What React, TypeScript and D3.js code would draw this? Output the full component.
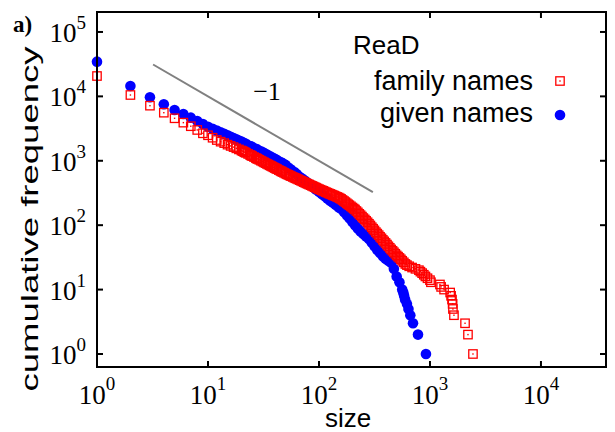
import React from 'react';
import * as d3 from 'd3';

// ---- data ----
// family names: size and cumulative frequency
const familySizes = [
  1, 2, 3, 4, 5, 6, 7, 8, 9, 10, 11, 12, 13, 14, 15, 16, 17, 18, 19, 20,
  20.5, 21, 21.5, 22, 23, 24, 24.5, 25, 26, 27, 27.5, 28, 29, 30, 31, 32, 33, 34, 35, 36,
  37, 38, 39, 40, 41, 42, 43.5, 45, 46, 47, 48.5, 50, 51.5, 53, 54.5, 56, 58, 60, 61.5, 63,
  65, 67, 69, 71, 73, 75, 77, 79, 81.5, 84, 86.5, 89, 91.5, 94, 97, 100, 103, 106, 109, 112,
  115.5, 119, 122.5, 126, 129.5, 133, 137, 141, 145.5, 150, 154, 158, 163, 168, 173, 178, 183,
  188, 194, 200, 205.5, 211, 217.5, 224, 230.5, 237, 244, 251, 258.5, 266, 274, 282, 290.5,
  299, 307.5, 316, 325.5, 335, 345, 355, 365.5, 376, 387, 398, 410, 422, 434.5, 447, 460,
  473, 487, 501, 516, 531, 546.5, 562, 581,
  600, 620, 650, 690, 740, 795, 820, 850, 880, 910, 950, 1000, 1020, 1230, 1260, 1340,
  1520, 1550, 1580, 1600, 1610, 1645, 2070, 2200, 2440,
];
const familyCum = [
  20700, 10500, 7170, 5580, 4570, 3910, 3440, 3010, 2670, 2490, 2280, 2100, 1980, 1880, 1780, 1700, 1630, 1560, 1500, 1445,
  1414, 1383, 1355, 1327, 1276, 1227, 1205, 1183, 1142, 1103, 1085, 1068, 1035, 1003, 974, 945, 919, 894, 872, 850,
  830, 810, 791, 773, 756, 740, 717, 695, 682, 669, 650, 632, 617, 603, 590, 577, 561, 546, 536, 526,
  513, 500, 489, 478, 467, 457, 447, 438, 428, 418, 408, 399, 390, 382, 372, 363, 355, 348, 341, 334,
  326, 319, 312, 306, 300, 294, 288, 282, 275, 269, 262, 256, 246, 237, 228, 219, 211,
  204, 196, 188, 181, 175, 166, 158, 150, 143, 136, 129, 123, 117, 111, 105, 99,
  93, 88, 83, 78, 74, 70, 66, 62.5, 59, 56, 53, 50, 47, 44.5, 42, 40,
  38, 36, 34, 32.5, 31, 29.5, 28, 26.5,
  25, 24, 23, 22, 21, 20, 19, 18, 17, 16, 15, 14, 13, 12, 11, 10,
  9, 8, 7, 6, 5, 4, 3, 2, 1,
];

// given names: size and cumulative frequency
const givenSizes = [
  1, 2, 3, 4, 5, 6, 7, 8, 9, 10, 11, 12, 13, 14, 15, 16, 17, 18, 19, 20,
  21, 22, 24, 25, 27, 28, 30, 32, 34, 36, 38, 40, 42, 45, 47, 50, 53, 56, 60, 63,
  67, 71, 75, 79, 84, 89, 94, 100, 106, 112, 119, 126, 133, 141, 150, 158, 168,
  178, 188, 200, 211, 224, 237, 251, 266, 282, 299, 316, 335, 355, 376, 398, 422,
  447, 473, 501, 531, 562,
  575, 585, 597, 620, 640, 665, 703, 780, 920,
];
const givenCum = [
  34600, 14500, 9680, 7540, 6150, 5330, 4670, 4150, 3730, 3380,
  3150, 2950, 2772, 2617, 2480, 2359, 2250, 2152, 2064, 1986,
  1905, 1830, 1700, 1641, 1537, 1489, 1404, 1325, 1251, 1184, 1125, 1072, 1023, 958, 919,
  863, 785, 733, 668, 624,
  562, 525, 490, 457, 422, 389, 359, 331, 305, 284, 260, 240, 224, 207, 190,
  180, 160, 143, 128, 112, 100, 89, 80, 73, 67,
  61, 54, 47, 41, 37, 33, 30, 28, 26, 21, 16, 13, 10,
  9, 8, 7, 6, 5, 4, 3, 2, 1,
];

// slope -1 guide line
const guideSizes = [3.2, 306];
const guideCum = [31250, 327];

const xTickExps = [0, 1, 2, 3, 4];
const yTickExps = [0, 1, 2, 3, 4, 5];

const legendTitle = 'ReaD';
const seriesNames = ['family names', 'given names'];

// ---- layout ----
const W = 615;
const H = 432;
const L = 97, R = 606, T = 12, B = 367;

const RED = '#ff0000';
const BLUE = '#0000ff';
const SANS = '"Liberation Sans", Arial, Helvetica, sans-serif';
const SERIF = '"Liberation Serif", "Times New Roman", serif';

function Square({ x, y }: { x: number; y: number }) {
  return (
    <g transform={`translate(${x},${y})`}>
      <rect x={-4.2} y={-4.2} width={8.4} height={8.4} fill="none" stroke={RED} strokeWidth={1.3} />
      <rect x={-0.7} y={-0.7} width={1.4} height={1.4} fill={RED} />
    </g>
  );
}

export default function App() {
  const x = d3.scaleLog().domain([1, Math.pow(10, 4.586)]).range([L, R]);
  const y = d3.scaleLog().domain([Math.pow(10, -0.202), Math.pow(10, 5.31)]).range([B, T]);

  const family = familySizes.map((s, i) => [s, familyCum[i]]);
  const given = givenSizes.map((s, i) => [s, givenCum[i]]);

  const line = d3.line<number[]>().x((d) => x(d[0])).y((d) => y(d[1]));
  const guide = guideSizes.map((s, i) => [s, guideCum[i]]);

  return (
    <svg width={W} height={H} style={{ position: 'absolute', left: 0, top: 0, background: '#fff' }}>
      <rect x={0} y={0} width={W} height={H} fill="#fff" />
      {/* panel label (cropped in the original) */}
      <text x={13} y={32} fontFamily={SERIF} fontWeight="bold" fontSize={23}>a)</text>

      {/* guide line */}
      <path d={line(guide) || ''} stroke="#808080" strokeWidth={2} fill="none" />
      <text x={267} y={100} fontFamily={SERIF} fontSize={26} textAnchor="middle">−1</text>

      {/* given names */}
      {given.map((d, i) => (
        <circle key={'g' + i} cx={x(d[0])} cy={y(d[1])} r={5.3} fill={BLUE} />
      ))}
      {/* family names */}
      {family.map((d, i) => (
        <Square key={'f' + i} x={x(d[0])} y={y(d[1])} />
      ))}

      {/* frame */}
      <rect x={L} y={T} width={R - L} height={B - T} fill="none" stroke="#000" strokeWidth={2} />
      {xTickExps.map((e) => {
        const px = x(Math.pow(10, e));
        return (
          <g key={'xt' + e}>
            <line x1={px} x2={px} y1={B} y2={B - 6} stroke="#000" strokeWidth={2} />
            <line x1={px} x2={px} y1={T} y2={T + 6} stroke="#000" strokeWidth={2} />
            <text x={px} y={404} fontFamily={SERIF} fontSize={27} textAnchor="middle">
              10<tspan fontSize={19} dy={-14}>{e}</tspan>
            </text>
          </g>
        );
      })}
      {yTickExps.map((e) => {
        const py = y(Math.pow(10, e));
        return (
          <g key={'yt' + e}>
            <line x1={L} x2={L + 6} y1={py} y2={py} stroke="#000" strokeWidth={2} />
            <line x1={R} x2={R - 6} y1={py} y2={py} stroke="#000" strokeWidth={2} />
            <text x={86} y={py + 10} fontFamily={SERIF} fontSize={27} textAnchor="end">
              10<tspan fontSize={19} dy={-13}>{e}</tspan>
            </text>
          </g>
        );
      })}

      {/* axis titles */}
      <text x={348} y={427} fontFamily={SANS} fontSize={26} textAnchor="middle">size</text>
      <text
        transform="translate(38,219) rotate(-90)"
        fontFamily={SANS}
        fontSize={24}
        textAnchor="middle"
        textLength={345}
        lengthAdjust="spacingAndGlyphs"
      >
        cumulative frequency
      </text>

      {/* legend */}
      <text x={353} y={54} fontFamily={SANS} fontSize={26}>{legendTitle}</text>
      <text x={533} y={90} fontFamily={SANS} fontSize={27} textAnchor="end">{seriesNames[0]}</text>
      <Square x={560} y={81} />
      <text x={533} y={122} fontFamily={SANS} fontSize={27} textAnchor="end">{seriesNames[1]}</text>
      <circle cx={560} cy={115} r={5.3} fill={BLUE} />
    </svg>
  );
}
